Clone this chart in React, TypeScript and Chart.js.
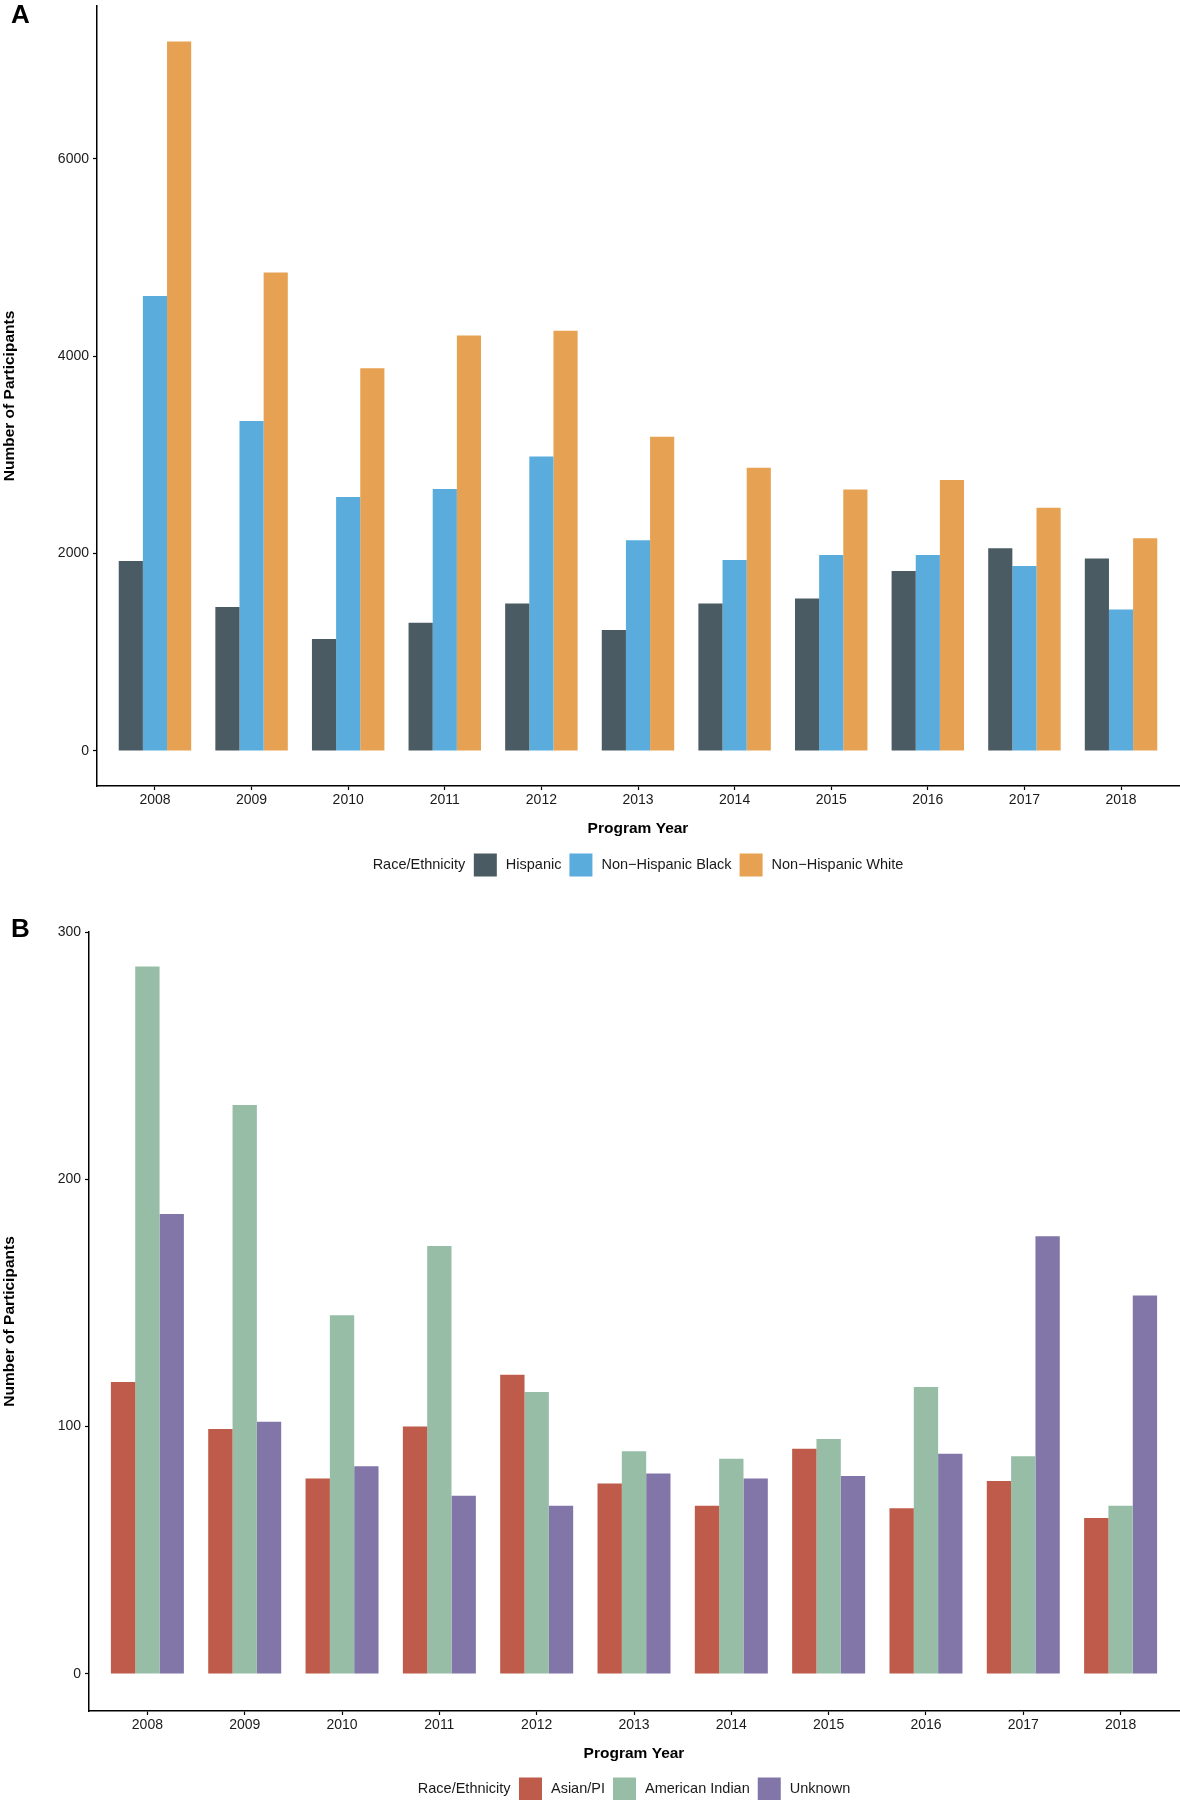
import React, { useEffect, useRef } from 'react';
import { Chart, registerables } from 'chart.js';

Chart.register(...registerables);

const years = ['2008', '2009', '2010', '2011', '2012', '2013', '2014', '2015', '2016', '2017', '2018'];

// Panel A
const hispanic = [1925, 1460, 1135, 1300, 1495, 1225, 1495, 1545, 1825, 2055, 1950];
const nhBlack = [4610, 3345, 2575, 2655, 2985, 2135, 1935, 1985, 1985, 1875, 1435];
const nhWhite = [7190, 4850, 3880, 4210, 4260, 3185, 2870, 2650, 2745, 2465, 2155];
const yTicksA = [0, 2000, 4000, 6000];

// Panel B
const asianPI = [118, 99, 79, 100, 121, 77, 68, 91, 67, 78, 63];
const amIndian = [286, 230, 145, 173, 114, 90, 87, 95, 116, 88, 68];
const unknown = [186, 102, 84, 72, 68, 81, 79, 80, 89, 177, 153];
const yTicksB = [0, 100, 200, 300];

const FONT = '"Liberation Sans", Arial, Helvetica, sans-serif';
const TEXT = '#1a1a1a';

type Series = { label: string; values: number[]; color: string };

function decorPlugin(letter: string, letterY: number, legendY: number, series: Series[]) {
  return {
    id: 'decor' + letter,
    afterDraw(chart: any) {
      const ctx = chart.ctx as CanvasRenderingContext2D;
      ctx.save();
      // panel letter
      ctx.font = `bold 26px ${FONT}`;
      ctx.fillStyle = '#000';
      ctx.textAlign = 'left';
      ctx.textBaseline = 'alphabetic';
      ctx.fillText(letter, 11, letterY);
      // legend
      ctx.font = `14.5px ${FONT}`;
      const box = 23;
      const gTitle = 8.5, gBoxText = 9, gTextBox = 8;
      const title = 'Race/Ethnicity';
      let total = ctx.measureText(title).width + gTitle;
      series.forEach((s, i) => {
        total += box + gBoxText + ctx.measureText(s.label).width;
        if (i < series.length - 1) total += gTextBox;
      });
      const ca = chart.chartArea;
      let x = (ca.left + ca.right) / 2 - total / 2;
      ctx.textBaseline = 'middle';
      ctx.fillStyle = TEXT;
      ctx.fillText(title, x, legendY);
      x += ctx.measureText(title).width + gTitle;
      series.forEach((s, i) => {
        ctx.fillStyle = s.color;
        ctx.fillRect(x, legendY - box / 2, box, box);
        x += box + gBoxText;
        ctx.fillStyle = TEXT;
        ctx.fillText(s.label, x, legendY);
        x += ctx.measureText(s.label).width;
        if (i < series.length - 1) x += gTextBox;
      });
      ctx.restore();
    },
  };
}

function buildConfig(opts: {
  series: Series[];
  yMin: number;
  yMax: number;
  yTicks: number[];
  yWidth: number;
  padTop: number;
  padBottom: number;
  letter: string;
  letterY: number;
  legendY: number;
}): any {
  return {
    type: 'bar',
    data: {
      datasets: opts.series.map((s) => ({
        label: s.label,
        data: s.values.map((v, i) => ({ x: i, y: v })),
        backgroundColor: s.color,
        borderWidth: 0,
        categoryPercentage: 0.75,
        barPercentage: 1,
      })),
    },
    options: {
      responsive: false,
      animation: false,
      devicePixelRatio: 1,
      layout: { padding: { top: opts.padTop, right: 1, bottom: opts.padBottom, left: 0 } },
      plugins: { legend: { display: false }, tooltip: { enabled: false } },
      scales: {
        x: {
          type: 'linear',
          min: -0.6,
          max: 10.6,
          offset: false,
          grid: {
            display: true,
            drawOnChartArea: false,
            drawTicks: true,
            tickLength: 4,
            tickColor: '#000',
            tickWidth: 1.2,
            offset: false,
          },
          border: { display: true, color: '#000', width: 1.5 },
          afterBuildTicks: (s: any) => {
            s.ticks = years.map((_, i) => ({ value: i }));
          },
          ticks: {
            callback: (v: number) => years[Math.round(v)],
            color: TEXT,
            font: { size: 14, family: FONT },
            padding: 2,
            maxRotation: 0,
            autoSkip: false,
          },
          title: {
            display: true,
            text: 'Program Year',
            color: '#000',
            font: { size: 15.5, weight: 'bold', family: FONT },
            padding: { top: 0, bottom: 2 },
          },
          afterFit: (s: any) => {
            s.height = 54;
            s.paddingLeft = 0;
            s.paddingRight = 0;
          },
        },
        y: {
          type: 'linear',
          min: opts.yMin,
          max: opts.yMax,
          grid: {
            display: true,
            drawOnChartArea: false,
            drawTicks: true,
            tickLength: 4,
            tickColor: '#000',
            tickWidth: 1.2,
          },
          border: { display: true, color: '#000', width: 1.5 },
          afterBuildTicks: (s: any) => {
            s.ticks = opts.yTicks.map((v) => ({ value: v }));
          },
          ticks: {
            callback: (v: number) => String(v),
            color: TEXT,
            font: { size: 14, family: FONT },
            padding: 4,
          },
          title: {
            display: true,
            text: 'Number of Participants',
            color: '#000',
            font: { size: 15.5, weight: 'bold', family: FONT },
            padding: 0,
          },
          afterFit: (s: any) => {
            s.width = opts.yWidth;
            s.paddingTop = 0;
            s.paddingBottom = 0;
          },
        },
      },
    },
    plugins: [decorPlugin(opts.letter, opts.letterY, opts.legendY, opts.series)],
  };
}

export default function App() {
  const refA = useRef<HTMLCanvasElement>(null);
  const refB = useRef<HTMLCanvasElement>(null);

  useEffect(() => {
    const seriesA: Series[] = [
      { label: 'Hispanic', values: hispanic, color: '#4B5B63' },
      { label: 'Non\u2212Hispanic Black', values: nhBlack, color: '#5AACDC' },
      { label: 'Non\u2212Hispanic White', values: nhWhite, color: '#E6A152' },
    ];
    const seriesB: Series[] = [
      { label: 'Asian/PI', values: asianPI, color: '#BF5B4B' },
      { label: 'American Indian', values: amIndian, color: '#97BDA7' },
      { label: 'Unknown', values: unknown, color: '#8275A8' },
    ];
    const a = new Chart(
      refA.current!,
      buildConfig({
        series: seriesA,
        yMin: -355,
        yMax: 7550,
        yTicks: yTicksA,
        yWidth: 97,
        padTop: 6,
        padBottom: 40,
        letter: 'A',
        letterY: 23,
        legendY: 865,
      })
    );
    const b = new Chart(
      refB.current!,
      buildConfig({
        series: seriesB,
        yMin: -15,
        yMax: 300,
        yTicks: yTicksB,
        yWidth: 89,
        padTop: 52,
        padBottom: 35,
        letter: 'B',
        letterY: 57,
        legendY: 909,
      })
    );
    return () => {
      a.destroy();
      b.destroy();
    };
  }, []);

  return (
    <div style={{ position: 'absolute', left: 0, top: 0, width: 1180, height: 1800, background: '#fff' }}>
      <canvas ref={refA} width={1180} height={880} style={{ position: 'absolute', left: 0, top: 0 }} />
      <canvas ref={refB} width={1180} height={920} style={{ position: 'absolute', left: 0, top: 880 }} />
    </div>
  );
}
